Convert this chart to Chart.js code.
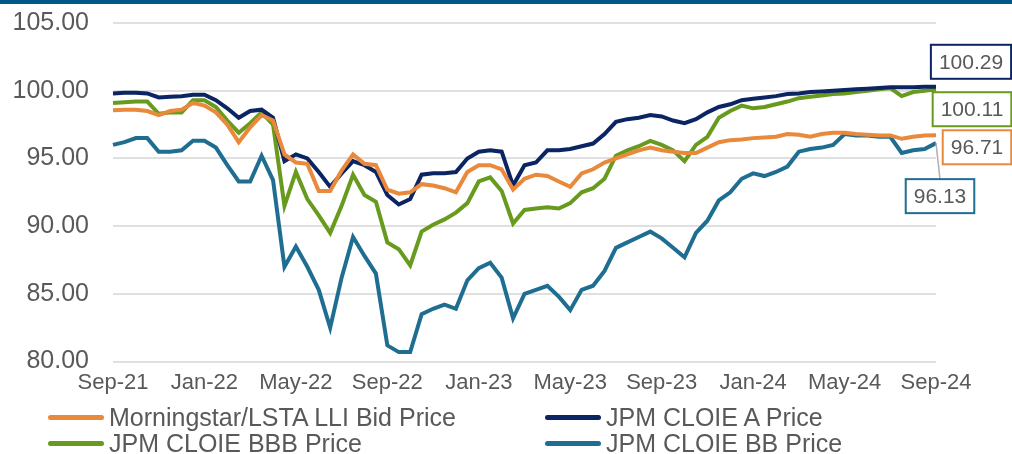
<!DOCTYPE html>
<html>
<head>
<meta charset="utf-8">
<script src="https://cdn.jsdelivr.net/npm/chart.js@4.4.1/dist/chart.umd.min.js"></script>
<style>
  body { margin: 0; background: #fff; font-family: "Liberation Sans", Arial, sans-serif; }
  #wrap { position: relative; width: 1012px; height: 454px; overflow: hidden; }
  #topbar { position: absolute; left: 0; top: 0; width: 1012px; height: 4px; background: #00578a; }
  #legend { position: absolute; left: 0; top: 404px; width: 1012px; }
  .item { position: absolute; height: 26px; line-height: 26px; font-size: 25px; color: #595959; white-space: nowrap; }
  .item span.sw { position: absolute; left: 0; top: 11px; width: 56px; height: 5px; border-radius: 3px; }
  .item span.tx { position: absolute; left: 61px; top: 0; }
</style>
</head>
<body>
<div id="wrap">
  <canvas id="myChart1" width="1012" height="454"></canvas>
  <div id="topbar"></div>
  <div id="legend"></div>
</div>
<script>
// semi-monthly observations, Sep-21 .. Sep-24
const dates = [
  '2021-09-01','2021-09-15','2021-10-01','2021-10-15','2021-11-01','2021-11-15','2021-12-01','2021-12-15',
  '2022-01-01','2022-01-15','2022-02-01','2022-02-15','2022-03-01','2022-03-15','2022-04-01','2022-04-15',
  '2022-05-01','2022-05-15','2022-06-01','2022-06-15','2022-07-01','2022-07-15','2022-08-01','2022-08-15',
  '2022-09-01','2022-09-15','2022-10-01','2022-10-15','2022-11-01','2022-11-15','2022-12-01','2022-12-15',
  '2023-01-01','2023-01-15','2023-02-01','2023-02-15','2023-03-01','2023-03-15','2023-04-01','2023-04-15',
  '2023-05-01','2023-05-15','2023-06-01','2023-06-15','2023-07-01','2023-07-15','2023-08-01','2023-08-15',
  '2023-09-01','2023-09-15','2023-10-01','2023-10-15','2023-11-01','2023-11-15','2023-12-01','2023-12-15',
  '2024-01-01','2024-01-15','2024-02-01','2024-02-15','2024-03-01','2024-03-15','2024-04-01','2024-04-15',
  '2024-05-01','2024-05-15','2024-06-01','2024-06-15','2024-07-01','2024-07-15','2024-08-01','2024-08-15',
  '2024-09-01'
];

const tickLabels = ['Sep-21','Jan-22','May-22','Sep-22','Jan-23','May-23','Sep-23','Jan-24','May-24','Sep-24'];

const lliBid = [
  98.55, 98.6, 98.6, 98.5, 98.2, 98.5, 98.6, 99.1, 98.9, 98.4, 97.5, 96.2, 97.3, 98.2, 97.8, 95.3,
  94.7, 94.6, 92.6, 92.6, 94.1, 95.3, 94.6, 94.5, 92.7, 92.4, 92.5, 93.1, 93.0, 92.8, 92.5, 94.0,
  94.5, 94.5, 94.2, 92.7, 93.5, 93.8, 93.7, 93.3, 92.9, 93.9, 94.2, 94.7, 95.0, 95.3, 95.6, 95.8,
  95.6, 95.5, 95.4, 95.4, 95.8, 96.2, 96.35, 96.4, 96.5, 96.55, 96.6, 96.8, 96.75, 96.6, 96.8, 96.9,
  96.9, 96.8, 96.75, 96.7, 96.7, 96.45, 96.6, 96.7, 96.71
];

const cloieA = [
  99.8, 99.85, 99.85, 99.8, 99.5, 99.55, 99.6, 99.7, 99.7, 99.3, 98.7, 98.0, 98.5, 98.6, 98.0, 94.8,
  95.3, 95.0, 94.0, 92.9, 93.9, 94.8, 94.5, 94.0, 92.3, 91.6, 92.0, 93.8, 93.9, 93.9, 94.0, 95.0,
  95.5, 95.6, 95.5, 93.0, 94.5, 94.7, 95.6, 95.6, 95.7, 95.9, 96.1, 96.8, 97.7, 97.9, 98.0, 98.2,
  98.1, 97.8, 97.6, 97.9, 98.4, 98.8, 99.0, 99.3, 99.4, 99.5, 99.6, 99.75, 99.8, 99.9, 99.95, 100.0,
  100.05, 100.1, 100.15, 100.2, 100.25, 100.25, 100.25, 100.3, 100.29
];

const cloieBBB = [
  99.1, 99.15, 99.2, 99.2, 98.3, 98.4, 98.4, 99.3, 99.3, 98.8, 97.8, 96.9, 97.6, 98.4, 97.5, 91.5,
  94.0, 92.0, 90.8, 89.5, 91.5, 93.8, 92.3, 91.8, 88.8, 88.3, 87.1, 89.6, 90.1, 90.5, 91.0, 91.7,
  93.3, 93.6, 92.6, 90.2, 91.2, 91.3, 91.4, 91.3, 91.7, 92.5, 92.8, 93.5, 95.2, 95.6, 95.9, 96.3,
  96.0, 95.6, 94.8, 96.0, 96.6, 98.0, 98.5, 98.9, 98.7, 98.8, 99.0, 99.2, 99.45, 99.55, 99.65, 99.75,
  99.8, 99.9, 100.0, 100.1, 100.2, 99.6, 99.9, 100.0, 100.11
];

const cloieBB = [
  96.0, 96.2, 96.5, 96.5, 95.5, 95.5, 95.6, 96.3, 96.3, 95.8, 94.5, 93.3, 93.3, 95.2, 93.4, 87.0,
  88.5, 87.0, 85.3, 82.5, 86.2, 89.2, 87.8, 86.5, 81.2, 80.7, 80.7, 83.5, 83.9, 84.2, 83.9, 86.0,
  86.9, 87.3, 86.2, 83.2, 85.0, 85.3, 85.6, 84.8, 83.8, 85.3, 85.6, 86.7, 88.4, 88.8, 89.2, 89.6,
  89.1, 88.4, 87.7, 89.5, 90.4, 91.9, 92.5, 93.5, 93.9, 93.7, 94.0, 94.4, 95.5, 95.7, 95.8, 96.0,
  96.8, 96.7, 96.7, 96.6, 96.6, 95.4, 95.6, 95.7, 96.13
];

const seriesNames = ['Morningstar/LSTA LLI Bid Price', 'JPM CLOIE A Price', 'JPM CLOIE BBB Price', 'JPM CLOIE BB Price'];
const seriesColors = ['#e8893b', '#0b2463', '#679a1d', '#1f6e92'];
const seriesData = [lliBid, cloieA, cloieBBB, cloieBB];

// end-of-series call-out boxes (offset from last point)
const calloutOffsets = [
  { dx: 41, dy: 12, leader: false },
  { dx: 35, dy: -25, leader: false },
  { dx: 36, dy: 20, leader: false },
  { dx: 4, dy: 53, leader: true }
];

const textGray = '#595959';

const callouts = {
  id: 'callouts',
  afterDatasetsDraw(chart) {
    const ctx = chart.ctx;
    ctx.save();
    ctx.font = '21px "Liberation Sans", Arial, sans-serif';
    ctx.textAlign = 'center';
    ctx.textBaseline = 'middle';
    chart.data.datasets.forEach((ds, i) => {
      const meta = chart.getDatasetMeta(i);
      const pt = meta.data[meta.data.length - 1];
      const val = ds.data[ds.data.length - 1].toFixed(2);
      const off = calloutOffsets[i];
      const cx = pt.x + off.dx;
      const cy = pt.y + off.dy;
      const w = ctx.measureText(val).width + 16;
      const h = 34;
      if (off.leader) {
        ctx.strokeStyle = '#b0b0b0';
        ctx.lineWidth = 1.5;
        ctx.beginPath();
        ctx.moveTo(pt.x, pt.y);
        ctx.lineTo(cx, cy - h / 2);
        ctx.stroke();
      }
      ctx.fillStyle = '#ffffff';
      ctx.fillRect(cx - w / 2, cy - h / 2, w, h);
      ctx.strokeStyle = ds.borderColor;
      ctx.lineWidth = 2;
      ctx.strokeRect(cx - w / 2, cy - h / 2, w, h);
      ctx.fillStyle = textGray;
      ctx.fillText(val, cx, cy + 1);
    });
    ctx.restore();
  }
};

const ctx = document.getElementById('myChart1').getContext('2d');
const myChart = new Chart(ctx, {
  type: 'line',
  data: {
    labels: dates,
    datasets: seriesData.map((d, i) => ({
      label: seriesNames[i],
      data: d,
      borderColor: seriesColors[i],
      backgroundColor: seriesColors[i],
      borderWidth: 4,
      pointRadius: 0,
      tension: 0,
      fill: false
    }))
  },
  options: {
    responsive: false,
    animation: false,
    layout: { autoPadding: false, padding: { left: 0, right: 76, top: 23, bottom: 58 } },
    plugins: {
      legend: { display: false },
      tooltip: { enabled: false }
    },
    scales: {
      x: {
        offset: false,
        grid: { display: false },
        border: { display: false },
        ticks: {
          autoSkip: false,
          maxRotation: 0,
          padding: 0,
          color: textGray,
          font: { family: '"Liberation Sans", Arial, sans-serif', size: 22 },
          callback: (v, idx) => (idx % 8 === 0 ? tickLabels[idx / 8] : '')
        }
      },
      y: {
        min: 80,
        max: 105,
        afterFit: (scale) => {
          // fixed axis width, and the tick padding should not push the plot down
          scale.width = 113;
          scale.paddingTop = 0;
          scale.paddingBottom = 0;
        },
        grid: { color: '#e0e0e0', lineWidth: 2, drawTicks: false },
        border: { display: false },
        ticks: {
          stepSize: 5,
          padding: 24,
          color: textGray,
          font: { family: '"Liberation Sans", Arial, sans-serif', size: 25 },
          callback: (v) => v.toFixed(2)
        }
      }
    }
  },
  plugins: [callouts]
});

// legend in two fixed columns
const legendBox = document.getElementById('legend');
const legendPos = [[48, 0], [545, 0], [48, 26], [545, 26]];
seriesNames.forEach((name, i) => {
  const el = document.createElement('div');
  el.className = 'item';
  el.style.left = legendPos[i][0] + 'px';
  el.style.top = legendPos[i][1] + 'px';
  el.innerHTML = '<span class="sw" style="background:' + seriesColors[i] + '"></span><span class="tx"></span>';
  el.querySelector('.tx').textContent = name;
  legendBox.appendChild(el);
});
</script>
</body>
</html>
